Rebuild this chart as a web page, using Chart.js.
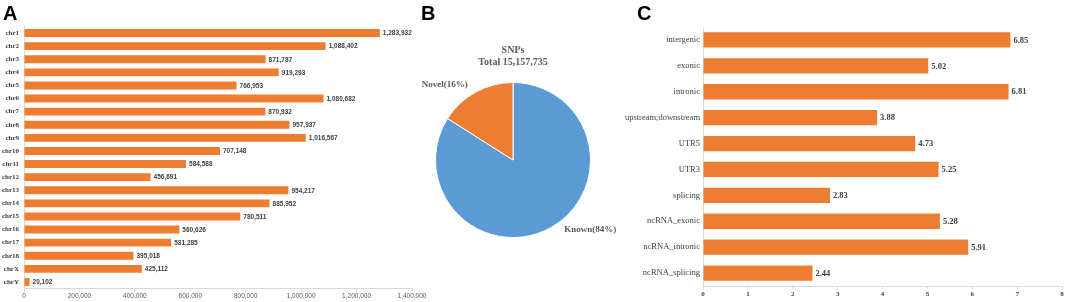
<!DOCTYPE html>
<html>
<head>
<meta charset="utf-8">
<script src="https://cdn.jsdelivr.net/npm/chart.js@4.4.1/dist/chart.umd.min.js"></script>
<style>
  body { margin: 0; background: #fff; }
  #wrap { position: relative; width: 1065px; height: 302px; overflow: hidden; }
  canvas { position: absolute; }
  .tag { position: absolute; font: bold 20px Arial, "Liberation Sans", sans-serif; line-height: 20px; color: #000; }
</style>
</head>
<body>
<div id="wrap">
  <canvas id="chartA" width="432" height="302" style="left:0;top:0"></canvas>
  <canvas id="chartB" width="210" height="302" style="left:420px;top:0"></canvas>
  <canvas id="chartC" width="445" height="302" style="left:620px;top:0"></canvas>
  <div class="tag" style="left:3px;top:3px">A</div>
  <div class="tag" style="left:421px;top:3px">B</div>
  <div class="tag" style="left:637px;top:3px">C</div>
</div>
<script>
// datos del panel A: SNPs por cromosoma
const chromosomes = ['chr1', 'chr2', 'chr3', 'chr4', 'chr5', 'chr6', 'chr7', 'chr8', 'chr9', 'chr10',
  'chr11', 'chr12', 'chr13', 'chr14', 'chr15', 'chr16', 'chr17', 'chr18', 'chrX', 'chrY'];
const snpCounts = [1283932, 1088402, 871787, 919293, 766953, 1080682, 870932, 957937, 1016567, 707148,
  584588, 456691, 954217, 885952, 780511, 560626, 531285, 395018, 425112, 20102];

// datos del panel B: conocidos vs nuevos
const pieLabels = ['Known(84%)', 'Novel(16%)'];
const pieValues = [84, 16];
const pieTitle = ['SNPs', 'Total 15,157,735'];

// datos del panel C: anotacion funcional
const regions = ['intergenic', 'exonic', 'intronic', 'upstream;downstream', 'UTR5', 'UTR3',
  'splicing', 'ncRNA_exonic', 'ncRNA_intronic', 'ncRNA_splicing'];
const regionValues = [6.85, 5.02, 6.81, 3.88, 4.73, 5.25, 2.83, 5.28, 5.91, 2.44];

const orange = '#ED7D31';
const blue = '#5B9BD5';
const serif = '"Liberation Serif", "Times New Roman", serif';
const sans = '"Liberation Sans", Arial, sans-serif';

// etiquetas de valor al final de cada barra
function barLabels(fmt, font, color) {
  return {
    id: 'barLabels',
    afterDatasetsDraw(chart) {
      const ctx = chart.ctx;
      const meta = chart.getDatasetMeta(0);
      ctx.save();
      ctx.font = font;
      ctx.fillStyle = color;
      ctx.textAlign = 'left';
      ctx.textBaseline = 'middle';
      meta.data.forEach((bar, i) => {
        ctx.fillText(fmt(chart.data.datasets[0].data[i]), bar.x + 3, bar.y + 0.5);
      });
      ctx.restore();
    }
  };
}

// Panel A
new Chart(document.getElementById('chartA'), {
  type: 'bar',
  data: {
    labels: chromosomes,
    datasets: [{ data: snpCounts, backgroundColor: orange, barPercentage: 0.6, categoryPercentage: 1 }]
  },
  options: {
    indexAxis: 'y',
    responsive: false,
    animation: false,
    layout: { padding: { top: 26.5, right: 20, left: 0, bottom: 0 } },
    plugins: { legend: { display: false }, tooltip: { enabled: false } },
    scales: {
      x: {
        min: 0, max: 1400000,
        afterFit: s => { s.height = 13.5; },
        border: { color: '#d9d9d9' },
        grid: { drawOnChartArea: false, tickLength: 3, color: '#d9d9d9' },
        ticks: {
          stepSize: 200000, padding: 1, maxRotation: 0,
          color: '#595959', font: { family: sans, size: 6.5 },
          callback: v => v.toLocaleString('en-US')
        }
      },
      y: {
        afterFit: s => { s.width = 24; },
        border: { color: '#d9d9d9' },
        grid: { display: false, drawTicks: false },
        ticks: { padding: 5, color: '#404040', font: { family: serif, size: 7, weight: 'bold' } }
      }
    }
  },
  plugins: [barLabels(v => v.toLocaleString('en-US'), 'bold 6.5px ' + sans, '#404040')]
});

// Panel B
const pieText = {
  id: 'pieText',
  afterDraw(chart) {
    const ctx = chart.ctx;
    const meta = chart.getDatasetMeta(0);
    const arc0 = meta.data[0];
    ctx.save();
    ctx.fillStyle = '#595959';
    ctx.font = 'bold 10px ' + serif;
    ctx.textAlign = 'center';
    ctx.textBaseline = 'middle';
    ctx.fillText(pieTitle[0], arc0.x, 50);
    ctx.fillText(pieTitle[1], arc0.x, 62);
    ctx.font = 'bold 9px ' + serif;
    meta.data.forEach((arc, i) => {
      const mid = (arc.startAngle + arc.endAngle) / 2;
      const r = arc.outerRadius + 8;
      const cx = Math.cos(mid), cy = Math.sin(mid);
      let x = arc.x + r * cx, y = arc.y + r * cy;
      if (cx < 0) { ctx.textAlign = 'right'; x -= 4; } else { ctx.textAlign = 'left'; x += 10; y -= 5; }
      ctx.fillText(chart.data.labels[i], x, y);
    });
    ctx.restore();
  }
};

new Chart(document.getElementById('chartB'), {
  type: 'pie',
  data: {
    labels: pieLabels,
    datasets: [{ data: pieValues, backgroundColor: [blue, orange], borderColor: '#fff', borderWidth: 1 }]
  },
  options: {
    responsive: false,
    animation: false,
    layout: { padding: { left: 15, right: 39, top: 82, bottom: 64 } },
    plugins: { legend: { display: false }, tooltip: { enabled: false } }
  },
  plugins: [pieText]
});

// Panel C
new Chart(document.getElementById('chartC'), {
  type: 'bar',
  data: {
    labels: regions,
    datasets: [{ data: regionValues, backgroundColor: orange, barPercentage: 0.59, categoryPercentage: 1 }]
  },
  options: {
    indexAxis: 'y',
    responsive: false,
    animation: false,
    layout: { padding: { top: 27, right: 3, left: 0, bottom: 0 } },
    plugins: { legend: { display: false }, tooltip: { enabled: false } },
    scales: {
      x: {
        min: 0, max: 8,
        afterFit: s => { s.height = 16; },
        border: { color: '#d9d9d9' },
        grid: { drawOnChartArea: false, tickLength: 3, color: '#d9d9d9' },
        ticks: { stepSize: 1, padding: 1, color: '#404040', font: { family: serif, size: 7, weight: 'bold' } }
      },
      y: {
        afterFit: s => { s.width = 83; },
        border: { color: '#d9d9d9' },
        grid: { display: false, drawTicks: false },
        ticks: { padding: 3, color: '#404040', font: { family: serif, size: 8.5 } }
      }
    }
  },
  plugins: [barLabels(v => v.toFixed(2), 'bold 8.5px ' + serif, '#404040')]
});
</script>
</body>
</html>
